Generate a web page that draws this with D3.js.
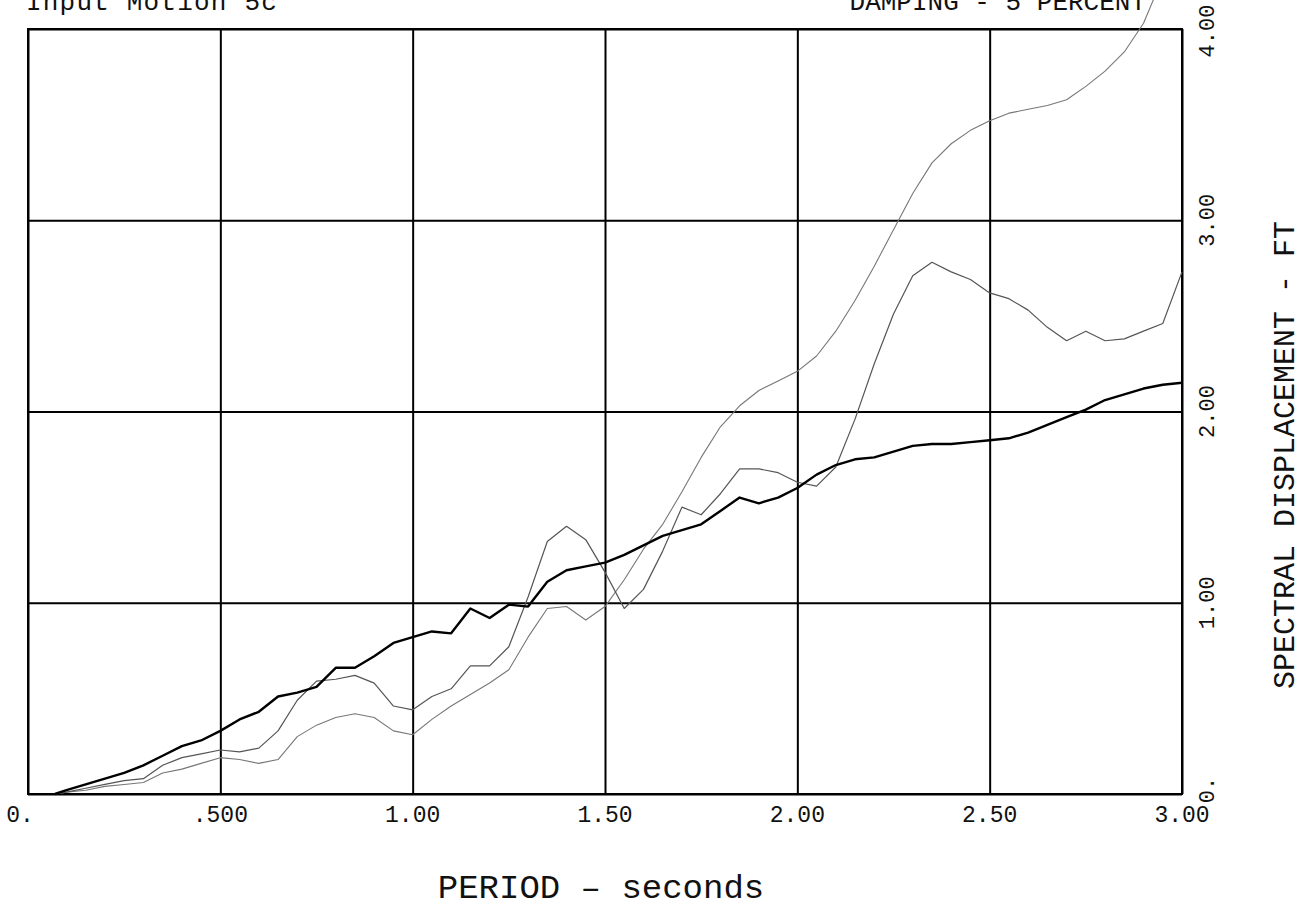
<!DOCTYPE html>
<html>
<head>
<meta charset="utf-8">
<script src="https://cdn.jsdelivr.net/npm/d3@7"></script>
<style>
  html, body { margin: 0; padding: 0; background: #fff; }
  svg { display: block; }
  text { font-family: "Liberation Mono", "DejaVu Sans Mono", monospace; fill: #111; }
</style>
</head>
<body>
<svg id="chart" width="1308" height="918"></svg>
<script>
// Response spectrum: spectral displacement (ft) vs period (s), 5% damping
const periods = [0.07, 0.10, 0.15, 0.20, 0.25, 0.30, 0.35, 0.40, 0.45, 0.50,
  0.55, 0.60, 0.65, 0.70, 0.75, 0.80, 0.85, 0.90, 0.95, 1.00,
  1.05, 1.10, 1.15, 1.20, 1.25, 1.30, 1.35, 1.40, 1.45, 1.50,
  1.55, 1.60, 1.65, 1.70, 1.75, 1.80, 1.85, 1.90, 1.95, 2.00,
  2.05, 2.10, 2.15, 2.20, 2.25, 2.30, 2.35, 2.40, 2.45, 2.50,
  2.55, 2.60, 2.65, 2.70, 2.75, 2.80, 2.85, 2.90, 2.95, 3.00];

const sdHeavy = [0.00, 0.02, 0.05, 0.08, 0.11, 0.15, 0.20, 0.25, 0.28, 0.33,
  0.39, 0.43, 0.51, 0.53, 0.56, 0.66, 0.66, 0.72, 0.79, 0.82,
  0.85, 0.84, 0.97, 0.92, 0.99, 0.98, 1.11, 1.17, 1.19, 1.21,
  1.25, 1.30, 1.35, 1.38, 1.41, 1.48, 1.55, 1.52, 1.55, 1.60,
  1.67, 1.72, 1.75, 1.76, 1.79, 1.82, 1.83, 1.83, 1.84, 1.85,
  1.86, 1.89, 1.93, 1.97, 2.01, 2.06, 2.09, 2.12, 2.14, 2.15];

const sdMid = [0.00, 0.01, 0.03, 0.05, 0.07, 0.08, 0.15, 0.19, 0.21, 0.23,
  0.22, 0.24, 0.33, 0.49, 0.59, 0.60, 0.62, 0.58, 0.46, 0.44,
  0.51, 0.55, 0.67, 0.67, 0.77, 1.03, 1.32, 1.40, 1.33, 1.16,
  0.97, 1.07, 1.27, 1.50, 1.46, 1.57, 1.70, 1.70, 1.68, 1.63,
  1.61, 1.71, 1.96, 2.25, 2.51, 2.71, 2.78, 2.73, 2.69, 2.62,
  2.59, 2.53, 2.44, 2.37, 2.42, 2.37, 2.38, 2.42, 2.46, 2.73];

const sdLight = [0.00, 0.01, 0.02, 0.04, 0.05, 0.06, 0.11, 0.13, 0.16, 0.19,
  0.18, 0.16, 0.18, 0.30, 0.36, 0.40, 0.42, 0.40, 0.33, 0.31,
  0.39, 0.46, 0.52, 0.58, 0.65, 0.82, 0.97, 0.98, 0.91, 0.98,
  1.12, 1.28, 1.41, 1.58, 1.76, 1.92, 2.03, 2.11, 2.16, 2.21,
  2.29, 2.42, 2.58, 2.76, 2.95, 3.14, 3.30, 3.40, 3.47, 3.52,
  3.56, 3.58, 3.60, 3.63, 3.70, 3.78, 3.88, 4.03, 4.27, null];

const xTicks = [0, 0.5, 1.0, 1.5, 2.0, 2.5, 3.0];
const xTickLabels = ["0.", ".500", "1.00", "1.50", "2.00", "2.50", "3.00"];
const yTicks = [0, 1, 2, 3, 4];
const yTickLabels = ["0.", "1.00", "2.00", "3.00", "4.00"];

const xTitle = "PERIOD \u2013 seconds";
const yTitle = "SPECTRAL DISPLACEMENT  -  FT";
const leftHeader = "Input Motion 5c";
const rightHeader = "DAMPING - 5 PERCENT";

const svg = d3.select("#chart");
const plot = { left: 28, right: 1182, top: 29, bottom: 794 };

const x = d3.scaleLinear().domain([0, 3]).range([plot.left, plot.right]);
const y = d3.scaleLinear().domain([0, 4]).range([plot.bottom, plot.top]);

// grid (vertical every 0.5 s, horizontal every 1 ft)
svg.append("g")
  .attr("transform", `translate(0,${plot.bottom})`)
  .call(d3.axisBottom(x).tickValues(xTicks).tickSize(-(plot.bottom - plot.top)).tickFormat(""))
  .call(g => g.select(".domain").remove())
  .selectAll("line").attr("stroke", "#000").attr("stroke-width", 2);

svg.append("g")
  .attr("transform", `translate(${plot.left},0)`)
  .call(d3.axisLeft(y).tickValues(yTicks).tickSize(-(plot.right - plot.left)).tickFormat(""))
  .call(g => g.select(".domain").remove())
  .selectAll("line").attr("stroke", "#000").attr("stroke-width", 2);

// frame
svg.append("rect")
  .attr("x", plot.left).attr("y", plot.top)
  .attr("width", plot.right - plot.left).attr("height", plot.bottom - plot.top)
  .attr("fill", "none").attr("stroke", "#000").attr("stroke-width", 2);

// x tick labels
svg.append("g").selectAll("text")
  .data(xTicks)
  .join("text")
  .attr("x", d => x(d) - (d === 0 ? 8 : 0))
  .attr("y", 822)
  .attr("text-anchor", "middle")
  .attr("font-size", 23)
  .text((d, i) => xTickLabels[i]);

// y tick labels on the right, rotated
svg.append("g").selectAll("text")
  .data(yTicks)
  .join("text")
  .attr("transform", d => `translate(1214,${y(d) + (d === 4 ? 2 : d === 0 ? -4 : 0)}) rotate(-90)`)
  .attr("text-anchor", "middle")
  .attr("font-size", 22)
  .text((d, i) => yTickLabels[i]);

// axis titles
svg.append("text")
  .attr("x", 601).attr("y", 898)
  .attr("text-anchor", "middle")
  .attr("font-size", 34)
  .text(xTitle);

svg.append("text")
  .attr("transform", `translate(1294,455) rotate(-90)`)
  .attr("text-anchor", "middle")
  .attr("font-size", 30)
  .text(yTitle);

// headers, partly cut off at the top edge
svg.append("text")
  .attr("x", 26).attr("y", 10)
  .attr("font-size", 26)
  .attr("letter-spacing", 1.2)
  .text(leftHeader);

svg.append("text")
  .attr("x", 1146).attr("y", 10)
  .attr("text-anchor", "end")
  .attr("font-size", 26)
  .text(rightHeader);

// spectra
const series = [
  { name: "light", values: sdLight, color: "#777", width: 1.1 },
  { name: "mid", values: sdMid, color: "#555", width: 1.2 },
  { name: "heavy", values: sdHeavy, color: "#000", width: 2.4 }
];

const line = d3.line()
  .defined(d => d[1] !== null)
  .x(d => x(d[0]))
  .y(d => y(d[1]));

svg.append("g").selectAll("path")
  .data(series)
  .join("path")
  .attr("fill", "none")
  .attr("stroke", s => s.color)
  .attr("stroke-width", s => s.width)
  .attr("stroke-linejoin", "round")
  .attr("d", s => line(periods.map((p, i) => [p, s.values[i]])));
</script>
</body>
</html>
